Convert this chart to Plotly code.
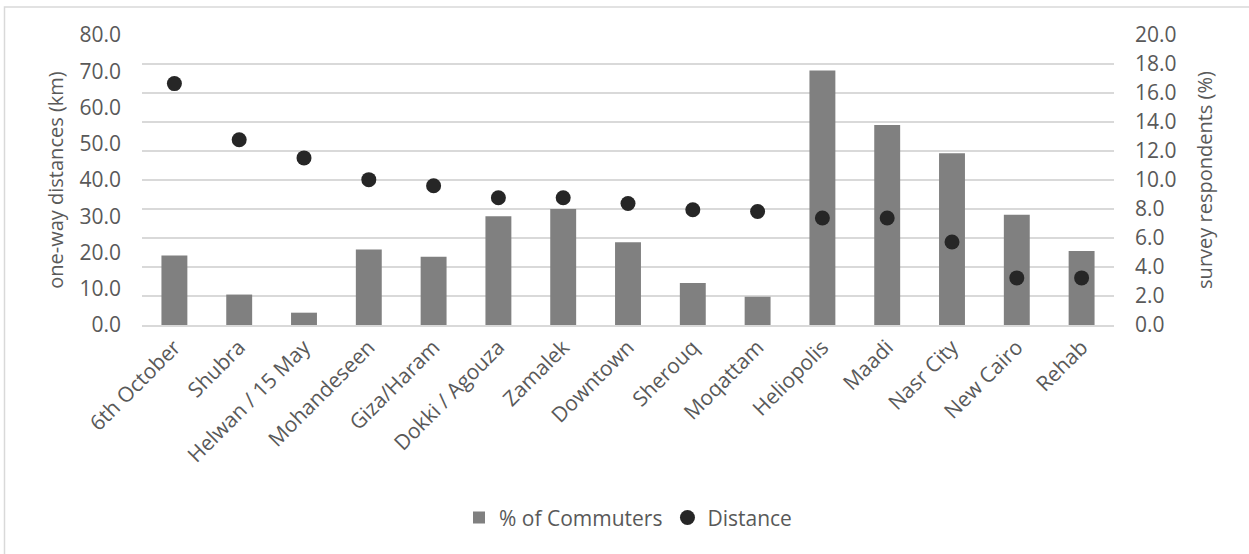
import plotly.graph_objects as go

categories = ["6th October", "Shubra", "Helwan / 15 May", "Mohandeseen", "Giza/Haram",
              "Dokki / Agouza", "Zamalek", "Downtown", "Sherouq", "Moqattam",
              "Heliopolis", "Maadi", "Nasr City", "New Cairo", "Rehab"]
pct_commuters = [4.8, 2.1, 0.85, 5.2, 4.7, 7.5, 8.0, 5.7, 2.9, 1.95, 17.55, 13.8, 11.85, 7.6, 5.1]
distance_km = [66.6, 51.1, 46.1, 40.1, 38.4, 35.1, 35.1, 33.5, 31.8, 31.3, 29.5, 29.5, 22.9, 13.0, 13.0]

left_ticks = [0, 10, 20, 30, 40, 50, 60, 70, 80]
right_ticks = [0, 2, 4, 6, 8, 10, 12, 14, 16, 18, 20]

FONT = "Open Sans"
TXT = "#595959"
TS = 21

fig = go.Figure()
fig.add_trace(go.Bar(x=categories, y=pct_commuters, name="% of Commuters",
                     marker=dict(color="#808080", line=dict(width=0)), yaxis="y"))
fig.add_trace(go.Scatter(x=categories, y=distance_km, name="Distance", mode="markers",
                         marker=dict(color="#262626", size=15), yaxis="y2"))

fig.update_layout(
    width=1249, height=554,
    margin=dict(l=142, r=135, t=35, b=229),
    paper_bgcolor="white", plot_bgcolor="white",
    font=dict(family=FONT, color=TXT, size=TS),
    bargap=0.6,
    showlegend=True,
    legend=dict(orientation="h", x=0.5, xanchor="center", y=-0.665, yanchor="middle",
                font=dict(size=TS, color=TXT), traceorder="normal", itemwidth=30),
    xaxis=dict(tickangle=-45, showline=True, linecolor="#d9d9d9", linewidth=1.5,
               range=[-0.5, len(categories) - 0.5],
               ticks="", tickfont=dict(size=TS, color=TXT)),
    yaxis=dict(side="right", range=[0, 20], tickvals=right_ticks,
               ticktext=[f"{v:.1f}" for v in right_ticks],
               showgrid=True, gridcolor="#d9d9d9", gridwidth=1.5, zeroline=False,
               title=dict(text="survey respondents (%)", standoff=22, font=dict(size=20, color=TXT)),
               tickfont=dict(size=TS, color=TXT), ticks="", ticklabelstandoff=20),
    yaxis2=dict(side="left", overlaying="y", range=[0, 80], tickvals=left_ticks,
                ticktext=[f"{v:.1f}" for v in left_ticks],
                showgrid=False, zeroline=False,
                title=dict(text="one-way distances (km)", standoff=10, font=dict(size=20, color=TXT)),
                tickfont=dict(size=TS, color=TXT), ticks="", ticklabelstandoff=20),
    shapes=[dict(type="rect", xref="paper", yref="paper",
                 x0=(4.5 - 142) / (1249 - 142 - 135), x1=1.3,
                 y0=-1.0, y1=1 + (35 - 7) / (554 - 35 - 229),
                 line=dict(color="#d9d9d9", width=1.5), fillcolor="rgba(0,0,0,0)", layer="below")],
)

fig.write_html("out.html")
